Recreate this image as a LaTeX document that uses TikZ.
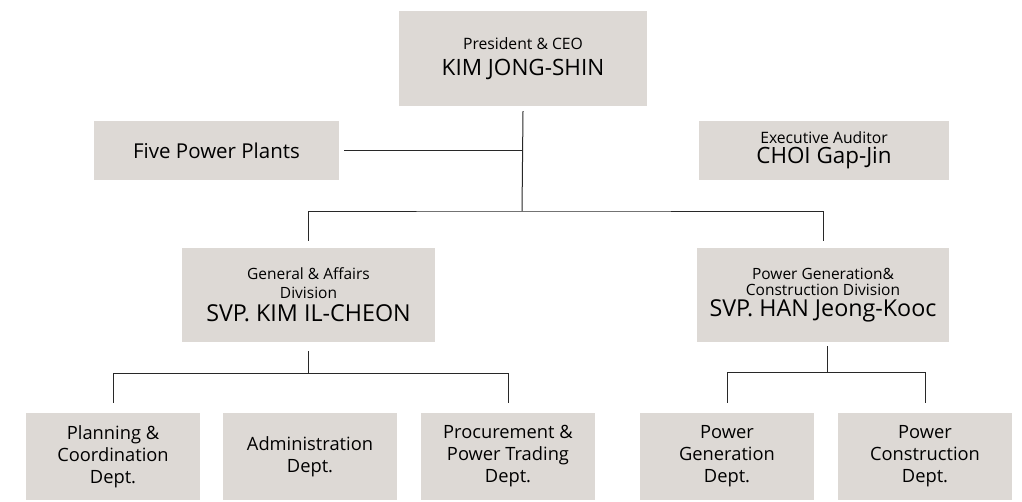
\documentclass[tikz,border=0pt]{standalone}
\usepackage{fontspec}
\setmainfont{Open Sans}
\definecolor{boxfill}{RGB}{221,217,213}
\definecolor{linecol}{RGB}{40,40,40}
\tikzset{
  orgbox/.style={fill=boxfill, draw=none, inner sep=0pt, align=center, text=black},
  conn/.style={draw=linecol, line width=1pt}
}
\begin{document}
\begin{tikzpicture}[x=1pt,y=-1pt]
\useasboundingbox (0,0) rectangle (1022,501);
% boxes
\node[orgbox, minimum width=248pt, minimum height=95pt, font=\fontsize{15.7}{26}\selectfont] (ceo) at (523,58.5)
  {President \& CEO\\{\fontsize{22.5}{26}\selectfont KIM JONG-SHIN}};
\node[orgbox, minimum width=245pt, minimum height=59pt, font=\fontsize{20.5}{24}\selectfont] (fpp) at (216.5,150.5) {Five Power Plants};
\node[orgbox, minimum width=250pt, minimum height=59pt, font=\fontsize{15.7}{20}\selectfont] (aud) at (824,150.5)
  {Executive Auditor\\{\fontsize{22.4}{20}\selectfont CHOI Gap-Jin}};
\node[orgbox, minimum width=253pt, minimum height=94pt, font=\fontsize{15.5}{19}\selectfont] (ga) at (308.5,295)
  {General \& Affairs\\Division\\[4pt]{\fontsize{23.3}{19}\selectfont SVP. KIM IL-CHEON}};
\node[orgbox, minimum width=252pt, minimum height=94pt, font=\fontsize{15.5}{16}\selectfont] (pg) at (823,295)
  {Power Generation\&\\Construction Division\\[3pt]{\fontsize{23.3}{16}\selectfont SVP. HAN Jeong-Kooc}};
\tikzset{deptbox/.style={orgbox, minimum width=174pt, minimum height=87pt, font=\fontsize{18.3}{22}\selectfont}}
\node[deptbox] (plan) at (113,456.5) {Planning \&\\Coordination\\Dept.};
\node[deptbox] (adm) at (310,456.5) {Administration\\Dept.};
\node[deptbox] (proc) at (508,456.5) {Procurement \&\\Power Trading\\Dept.};
\node[deptbox] (pgen) at (727,456.5) {Power\\Generation\\Dept.};
\node[deptbox] (pcon) at (925,456.5) {Power\\Construction\\Dept.};
% connectors
\coordinate (j1) at (522,211);
\draw[conn] ([yshift=-5pt]ceo.south) -- (j1);
\draw[conn] ([yshift=7pt]ga.north) |- (j1) -| ([yshift=7pt]pg.north);
\draw[conn] ([xshift=5pt]fpp.east) -- (fpp.east -| j1);
\draw[conn] ([yshift=-9pt]ga.south) -- ++(0,22) coordinate (j2);
\draw[conn] ([yshift=10pt]plan.north) |- (j2) -| ([yshift=10pt]proc.north);
\draw[conn] ([yshift=-4pt,xshift=4pt]pg.south) -- ++(0,26) coordinate (j3);
\draw[conn] ([yshift=10pt]pgen.north) |- (j3) -| ([yshift=10pt]pcon.north);
\end{tikzpicture}
\end{document}
